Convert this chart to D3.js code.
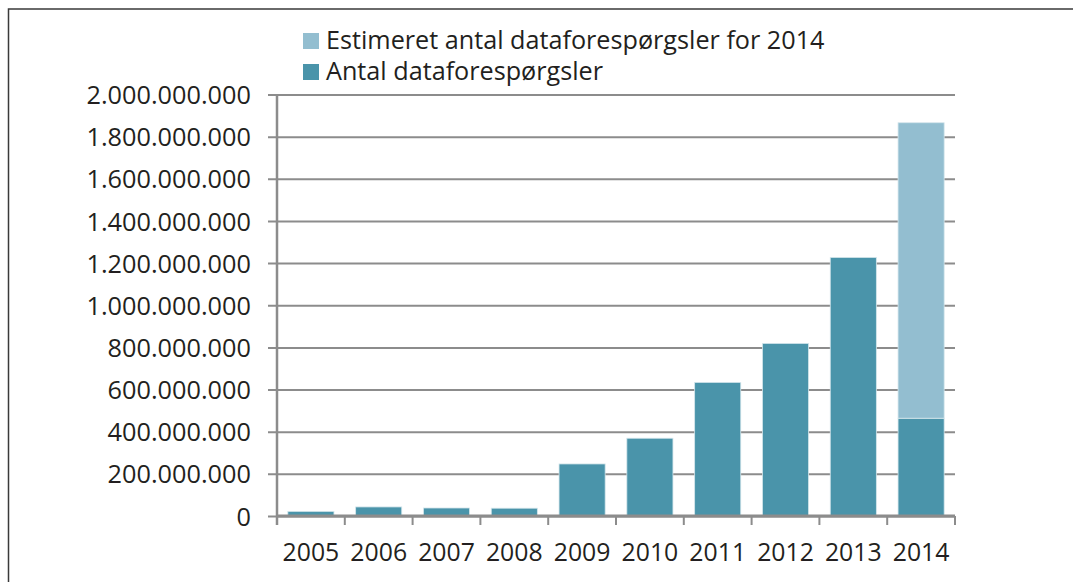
<!DOCTYPE html>
<html>
<head>
  <meta charset="utf-8">
  <title>Antal dataforespørgsler</title>
  <script src="https://d3js.org/d3.v7.min.js"></script>
  <style>
    body { margin: 0; background: #fff; }
    text { font-family: "Open Sans", sans-serif; fill: #231f20; }
  </style>
</head>
<body>
<div id="chart"></div>
<script>
  // data
  var years = ["2005", "2006", "2007", "2008", "2009", "2010", "2011", "2012", "2013", "2014"];
  var antal = [22e6, 43e6, 38e6, 37e6, 247e6, 369e6, 634e6, 819e6, 1227e6, 464e6];
  var estimeret = [0, 0, 0, 0, 0, 0, 0, 0, 0, 1402e6];
  var seriesNames = ["Estimeret antal dataforespørgsler for 2014", "Antal dataforespørgsler"];
  var yTicks = [0, 2e8, 4e8, 6e8, 8e8, 10e8, 12e8, 14e8, 16e8, 18e8, 20e8];

  var width = 1073, height = 582;
  var svg = d3.select("#chart").append("svg")
    .attr("width", width).attr("height", height);

  // frame around the figure
  svg.append("rect")
    .attr("x", 8.5).attr("y", 9).attr("width", 1100).attr("height", 600)
    .attr("fill", "none").attr("stroke", "#3a3a3a").attr("stroke-width", 1.5);

  var plotLeft = 277, plotRight = 955, plotTop = 94.5, plotBottom = 516;

  var x = d3.scaleBand().domain(years).range([plotLeft, plotRight]).paddingInner(0.32).paddingOuter(0.16);
  var y = d3.scaleLinear().domain([0, 2e9]).range([plotBottom, plotTop]);

  var fmt = function(d) { return d3.format(",")(d).replace(/,/g, "."); };

  // gridlines + y labels
  var yAxis = svg.append("g").attr("transform", "translate(" + plotLeft + ",0)")
    .call(d3.axisLeft(y).tickValues(yTicks).tickSize(-(plotRight - plotLeft)).tickSizeOuter(0).tickFormat(fmt));
  yAxis.select(".domain").remove();
  yAxis.selectAll(".tick line").attr("x1", -9).attr("stroke", "#8c8c8c").attr("stroke-width", 2);
  yAxis.selectAll(".tick text").attr("x", -26).attr("dy", "0.36em")
    .style("font-size", "25.3px").style("font-family", "'Open Sans', sans-serif").attr("fill", "#231f20");

  // bars
  var table = years.map(function(yr, i) { return { year: yr, antal: antal[i], estimeret: estimeret[i] }; });
  var stack = d3.stack().keys(["antal", "estimeret"])(table);
  var colors = { antal: "#4a94aa", estimeret: "#93bed0" };

  svg.append("g").selectAll("g").data(stack).join("g")
    .attr("fill", function(s) { return colors[s.key]; })
    .selectAll("rect").data(function(s) { return s.filter(function(d) { return d[1] > d[0]; }); }).join("rect")
    .attr("x", function(d) { return x(d.data.year); })
    .attr("width", x.bandwidth())
    .attr("y", function(d) { return y(d[1]); })
    .attr("height", function(d) { return y(d[0]) - y(d[1]); })
    .attr("stroke", "#d5e6ec").attr("stroke-width", 0.8);

  // y axis line
  svg.append("line")
    .attr("x1", plotLeft).attr("x2", plotLeft).attr("y1", plotTop).attr("y2", plotBottom + 9)
    .attr("stroke", "#8c8c8c").attr("stroke-width", 2.5);

  // x axis
  var xAxis = svg.append("g").attr("transform", "translate(0," + plotBottom + ")")
    .call(d3.axisBottom(x).tickSize(0).tickSizeOuter(0));
  xAxis.select(".domain").remove();
  xAxis.append("line").attr("x1", plotLeft).attr("x2", plotRight).attr("stroke", "#8c8c8c").attr("stroke-width", 3);
  d3.range(years.length + 1).forEach(function(i) {
    var px = plotLeft + i * x.step();
    xAxis.append("line").attr("x1", px).attr("x2", px).attr("y1", 0).attr("y2", 9)
      .attr("stroke", "#8c8c8c").attr("stroke-width", 2);
  });
  xAxis.selectAll(".tick text").attr("y", 45).attr("dy", 0)
    .style("font-size", "24.8px").style("font-family", "'Open Sans', sans-serif").attr("fill", "#231f20");

  // legend
  var legend = svg.append("g").attr("transform", "translate(303,33)");
  seriesNames.forEach(function(name, i) {
    var g = legend.append("g").attr("transform", "translate(0," + (i * 31) + ")");
    g.append("rect").attr("width", 16).attr("height", 16)
      .attr("fill", i === 0 ? colors.estimeret : colors.antal);
    g.append("text").attr("x", 23).attr("y", 16).style("font-size", "25.2px").text(name);
  });
</script>
</body>
</html>
